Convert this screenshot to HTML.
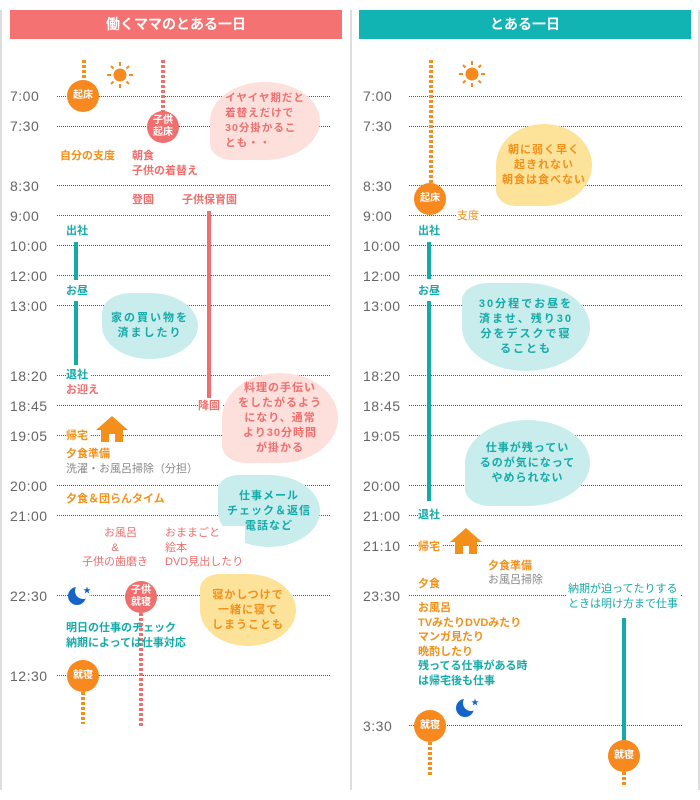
<!DOCTYPE html>
<html><head><meta charset="utf-8"><style>
*{margin:0;padding:0;box-sizing:border-box}
body{width:700px;height:800px;background:#fff;position:relative;overflow:hidden;font-family:"Liberation Sans","Noto Sans CJK JP",sans-serif}
div,svg{position:absolute}
.t{font-size:14px;color:#666;letter-spacing:0.5px;line-height:16px}
.g{height:0;border-top:1px dotted #555}
.l{font-size:11px;line-height:14.5px;white-space:nowrap;font-weight:bold;background:#fff;padding-right:2px}
.o{color:#f39019}.p{color:#ef6e6e}.c{color:#14aaa8}.gr{color:#888;font-weight:normal}
.cir{border-radius:50%;color:#fff;font-size:10px;line-height:12px;display:flex;align-items:center;justify-content:center;text-align:center;font-weight:bold}
.b{border-radius:50%;display:flex;align-items:center;justify-content:center;text-align:center;font-size:11px;line-height:15px;letter-spacing:2px;font-weight:bold;white-space:nowrap}
.dv{width:4px}
.dvo{background:repeating-linear-gradient(to bottom,#f39019 0 3px,transparent 3px 5px)}
.dvp{background:repeating-linear-gradient(to bottom,#ef6e6e 0 3px,transparent 3px 5px)}
</style></head><body>
<div style="left:0;top:10px;width:2px;height:780px;background:#ddd"></div>
<div style="left:350px;top:10px;width:2px;height:780px;background:#ddd"></div>
<div style="left:698px;top:10px;width:2px;height:780px;background:#ddd"></div>
<div style="left:10px;top:10px;width:332px;height:29px;background:#f57272;color:#fff;font-size:14px;font-weight:bold;text-align:center;line-height:29px">働くママのとある一日</div>
<div style="left:359px;top:10px;width:332px;height:29px;background:#12b4b3;color:#fff;font-size:14px;font-weight:bold;text-align:center;line-height:29px">とある一日</div>

<!-- left times -->
<div class="t" style="left:10px;top:88px">7:00</div><div class="g" style="left:57px;top:96px;width:273px"></div>
<div class="t" style="left:10px;top:118px">7:30</div><div class="g" style="left:57px;top:126px;width:273px"></div>
<div class="t" style="left:10px;top:178px">8:30</div><div class="g" style="left:57px;top:185px;width:273px"></div>
<div class="t" style="left:10px;top:208px">9:00</div><div class="g" style="left:57px;top:215px;width:273px"></div>
<div class="t" style="left:10px;top:238px">10:00</div><div class="g" style="left:57px;top:245px;width:273px"></div>
<div class="t" style="left:10px;top:268px">12:00</div><div class="g" style="left:57px;top:275px;width:273px"></div>
<div class="t" style="left:10px;top:298px">13:00</div><div class="g" style="left:57px;top:305px;width:273px"></div>
<div class="t" style="left:10px;top:368px">18:20</div><div class="g" style="left:57px;top:375px;width:273px"></div>
<div class="t" style="left:10px;top:398px">18:45</div><div class="g" style="left:57px;top:405px;width:273px"></div>
<div class="t" style="left:10px;top:428px">19:05</div><div class="g" style="left:57px;top:435px;width:273px"></div>
<div class="t" style="left:10px;top:478px">20:00</div><div class="g" style="left:57px;top:485px;width:273px"></div>
<div class="t" style="left:10px;top:508px">21:00</div><div class="g" style="left:57px;top:515px;width:273px"></div>
<div class="t" style="left:10px;top:588px">22:30</div><div class="g" style="left:57px;top:595px;width:273px"></div>
<div class="t" style="left:10px;top:668px">12:30</div><div class="g" style="left:57px;top:675px;width:273px"></div>

<!-- left items -->
<div class="dv dvo" style="left:82px;top:60px;height:20px"></div>
<div class="cir" style="left:67px;top:80px;width:32px;height:32px;background:#f7891f">起床</div>
<svg style="left:106px;top:61px" width="28" height="28" viewBox="-14 -14 28 28"><circle r="6.5" fill="#f7891f"/><g stroke="#f7891f" stroke-width="2"><line x1="9" y1="0" x2="13" y2="0"/><line x1="-9" y1="0" x2="-13" y2="0"/><line x1="0" y1="9" x2="0" y2="13"/><line x1="0" y1="-9" x2="0" y2="-13"/><line x1="6.5" y1="6.5" x2="9" y2="9"/><line x1="-6.5" y1="6.5" x2="-9" y2="9"/><line x1="6.5" y1="-6.5" x2="9" y2="-9"/><line x1="-6.5" y1="-6.5" x2="-9" y2="-9"/></g></svg>
<div class="dv dvp" style="left:161px;top:60px;height:52px"></div>
<div class="cir" style="left:147px;top:111px;width:32px;height:32px;background:#ef6e6e">子供<br>起床</div>
<div class="b p" style="left:210px;top:82px;width:110px;height:78px;background:#fde0dc;font-size:10.5px;text-align:left;border-radius:50% 50% 50% 20%;letter-spacing:1px">イヤイヤ期だと<br>着替えだけで<br>30分掛かるこ<br>とも・・</div>
<div class="l o" style="left:60px;top:149px">自分の支度</div>
<div class="l p" style="left:132px;top:149px">朝食<br>子供の着替え</div>
<div class="l p" style="left:132px;top:193px">登園</div>
<div class="l p" style="left:182px;top:193px">子供保育園</div>
<div style="left:207px;top:211px;width:4px;height:187px;background:#ef6e6e"></div>
<div class="l c" style="left:66px;top:224px">出社</div>
<div style="left:74px;top:242px;width:4px;height:38px;background:#14aaa8"></div>
<div class="l c" style="left:66px;top:284px">お昼</div>
<div style="left:74px;top:301px;width:4px;height:64px;background:#14aaa8"></div>
<div class="b c" style="left:102px;top:293px;width:96px;height:66px;background:#c9eded;border-radius:30% 50% 50% 50%">家の買い物を<br>済ましたり</div>
<div class="l c" style="left:66px;top:368px">退社</div>
<div class="l p" style="left:66px;top:383px;background:none">お迎え</div>
<div class="l p" style="left:198px;top:399px">降園</div>
<div class="b p" style="left:222px;top:373px;width:116px;height:90px;background:#fde0dc;border-radius:50% 50% 50% 20%;letter-spacing:1px">料理の手伝い<br>をしたがるよう<br>になり、通常<br>より30分時間<br>が掛かる</div>
<div class="l o" style="left:66px;top:429px">帰宅</div>
<div style="left:96px;top:416px;width:0;height:0;border-left:16px solid transparent;border-right:16px solid transparent;border-bottom:14px solid #f39019"></div>
<div style="left:101px;top:430px;width:22px;height:12px;background:#f39019"></div>
<div style="left:109px;top:434px;width:6px;height:8px;background:#fff"></div>
<div class="l o" style="left:66px;top:447px">夕食準備</div>
<div class="l gr" style="left:66px;top:462px">洗濯・お風呂掃除（分担）</div>
<div class="b c" style="left:218px;top:475px;width:102px;height:72px;background:#c9eded;border-radius:20% 50% 50% 50%;letter-spacing:1px">仕事メール<br>チェック＆返信<br>電話など</div>
<div class="l o" style="left:66px;top:492px;background:none">夕食＆団らんタイム</div>
<div class="l p" style="left:82px;top:526px;text-align:center;font-weight:normal">　お風呂<br>&amp;<br>子供の歯磨き</div>
<div class="l p" style="left:165px;top:526px;font-weight:normal">おままごと<br>絵本<br>DVD見出したり</div>
<div style="left:68px;top:587px;width:18px;height:18px;border-radius:50%;background:#1565c8"></div>
<div style="left:75px;top:583px;width:16px;height:16px;border-radius:50%;background:#fff"></div>
<div style="left:83px;top:587px;color:#1565c8;font-size:8px;line-height:8px">★</div>
<div class="dv dvp" style="left:139px;top:613px;height:114px"></div>
<div class="cir" style="left:125px;top:581px;width:32px;height:32px;background:#ef6e6e">子供<br>就寝</div>
<div class="b o" style="left:200px;top:574px;width:96px;height:72px;background:#fde29a;border-radius:20% 50% 50% 50%;letter-spacing:1px">寝かしつけで<br>一緒に寝て<br>しまうことも</div>
<div class="l c" style="left:66px;top:621px;background:none">明日の仕事のチェック<br>納期によっては仕事対応</div>
<div class="cir" style="left:67px;top:660px;width:32px;height:32px;background:#f7891f">就寝</div>
<div class="dv dvo" style="left:81px;top:692px;height:32px"></div>

<!-- right times -->
<div class="t" style="left:363px;top:88px">7:00</div><div class="g" style="left:409px;top:96px;width:273px"></div>
<div class="t" style="left:363px;top:118px">7:30</div><div class="g" style="left:409px;top:126px;width:273px"></div>
<div class="t" style="left:363px;top:178px">8:30</div><div class="g" style="left:409px;top:185px;width:273px"></div>
<div class="t" style="left:363px;top:208px">9:00</div><div class="g" style="left:409px;top:215px;width:273px"></div>
<div class="t" style="left:363px;top:238px">10:00</div><div class="g" style="left:409px;top:245px;width:273px"></div>
<div class="t" style="left:363px;top:268px">12:00</div><div class="g" style="left:409px;top:275px;width:273px"></div>
<div class="t" style="left:363px;top:298px">13:00</div><div class="g" style="left:409px;top:305px;width:273px"></div>
<div class="t" style="left:363px;top:368px">18:20</div><div class="g" style="left:409px;top:375px;width:273px"></div>
<div class="t" style="left:363px;top:398px">18:45</div><div class="g" style="left:409px;top:405px;width:273px"></div>
<div class="t" style="left:363px;top:428px">19:05</div><div class="g" style="left:409px;top:435px;width:273px"></div>
<div class="t" style="left:363px;top:478px">20:00</div><div class="g" style="left:409px;top:485px;width:273px"></div>
<div class="t" style="left:363px;top:508px">21:00</div><div class="g" style="left:409px;top:515px;width:273px"></div>
<div class="t" style="left:363px;top:538px">21:10</div><div class="g" style="left:409px;top:545px;width:273px"></div>
<div class="t" style="left:363px;top:588px">23:30</div><div class="g" style="left:409px;top:595px;width:273px"></div>
<div class="t" style="left:363px;top:718px">3:30</div><div class="g" style="left:409px;top:725px;width:273px"></div>

<!-- right items -->
<div class="dv dvo" style="left:429px;top:60px;height:124px"></div>
<div class="cir" style="left:414px;top:183px;width:32px;height:32px;background:#f7891f">起床</div>
<svg style="left:458px;top:60px" width="28" height="28" viewBox="-14 -14 28 28"><circle r="6.5" fill="#f7891f"/><g stroke="#f7891f" stroke-width="2"><line x1="9" y1="0" x2="13" y2="0"/><line x1="-9" y1="0" x2="-13" y2="0"/><line x1="0" y1="9" x2="0" y2="13"/><line x1="0" y1="-9" x2="0" y2="-13"/><line x1="6.5" y1="6.5" x2="9" y2="9"/><line x1="-6.5" y1="6.5" x2="-9" y2="9"/><line x1="6.5" y1="-6.5" x2="9" y2="-9"/><line x1="-6.5" y1="-6.5" x2="-9" y2="-9"/></g></svg>
<div class="l o" style="left:457px;top:209px;font-weight:normal">支度</div>
<div class="b o" style="left:496px;top:124px;width:96px;height:82px;background:#fde29a;border-radius:50% 50% 50% 20%;letter-spacing:1px">朝に弱く早く<br>起きれない<br>朝食は食べない</div>
<div class="l c" style="left:418px;top:224px">出社</div>
<div style="left:427px;top:242px;width:4px;height:37px;background:#14aaa8"></div>
<div class="l c" style="left:418px;top:284px">お昼</div>
<div style="left:427px;top:301px;width:4px;height:200px;background:#14aaa8"></div>
<div class="b c" style="left:462px;top:283px;width:128px;height:88px;background:#c9eded;border-radius:20% 50% 50% 50%">30分程でお昼を<br>済ませ、残り30<br>分をデスクで寝<br>ることも</div>
<div class="b c" style="left:465px;top:420px;width:125px;height:86px;background:#c9eded;border-radius:50% 50% 50% 20%;letter-spacing:1px">仕事が残ってい<br>るのが気になって<br>やめられない</div>
<div class="l c" style="left:418px;top:508px">退社</div>
<div class="l o" style="left:418px;top:540px">帰宅</div>
<div style="left:450px;top:528px;width:0;height:0;border-left:16px solid transparent;border-right:16px solid transparent;border-bottom:14px solid #f39019"></div>
<div style="left:455px;top:542px;width:22px;height:12px;background:#f39019"></div>
<div style="left:463px;top:546px;width:6px;height:8px;background:#fff"></div>
<div class="l o" style="left:488px;top:559px">夕食準備</div>
<div class="l gr" style="left:488px;top:573px">お風呂掃除</div>
<div class="l o" style="left:418px;top:577px">夕食</div>
<div class="l c" style="left:566px;top:582px;font-weight:normal;padding:0 2px">納期が迫ってたりする<br>ときは明け方まで仕事</div>
<div style="left:622px;top:618px;width:4px;height:124px;background:#14aaa8"></div>
<div class="cir" style="left:608px;top:740px;width:32px;height:32px;background:#f7891f">就寝</div>
<div class="dv dvo" style="left:622px;top:772px;height:14px"></div>
<div class="l o" style="left:418px;top:601px;background:none">お風呂<br>TVみたりDVDみたり<br>マンガ見たり<br>晩酌したり</div>
<div class="l c" style="left:418px;top:659px;background:none">残ってる仕事がある時<br>は帰宅後も仕事</div>
<div style="left:456px;top:699px;width:18px;height:18px;border-radius:50%;background:#1565c8"></div>
<div style="left:463px;top:695px;width:16px;height:16px;border-radius:50%;background:#fff"></div>
<div style="left:471px;top:699px;color:#1565c8;font-size:8px;line-height:8px">★</div>
<div class="cir" style="left:414px;top:710px;width:32px;height:32px;background:#f7891f">就寝</div>
<div class="dv dvo" style="left:428px;top:742px;height:34px"></div>
</body></html>
